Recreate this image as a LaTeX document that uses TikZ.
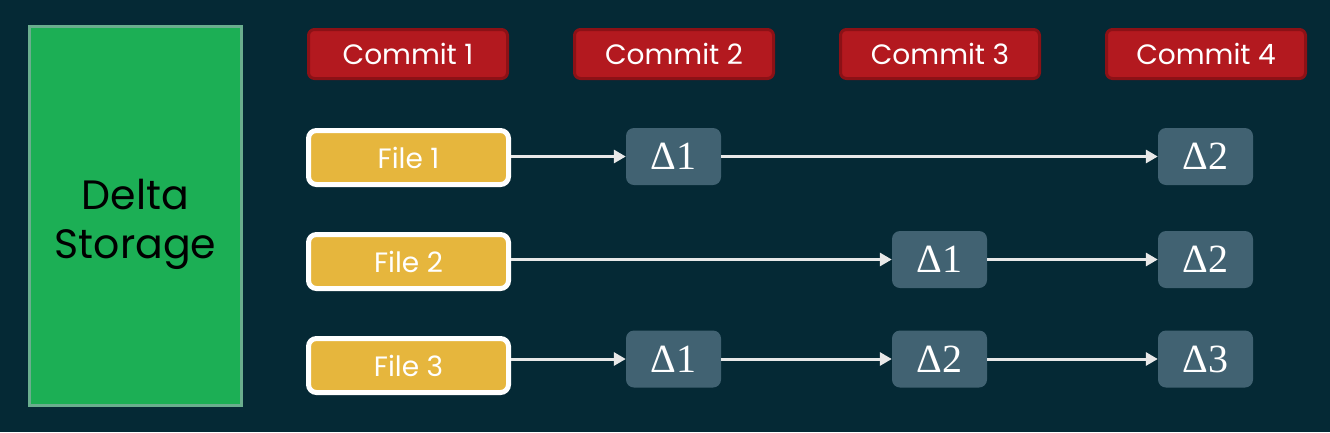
\documentclass[tikz,border=0pt]{standalone}
\usepackage{fontspec}
\setmainfont{Poppins}
\newfontfamily\deltafont{Liberation Serif}
\usetikzlibrary{arrows.meta}

\definecolor{bgcol}{RGB}{5,41,53}
\definecolor{storefill}{RGB}{28,175,85}
\definecolor{storeline}{RGB}{106,174,142}
\definecolor{commitfill}{RGB}{179,25,31}
\definecolor{commitline}{RGB}{140,17,22}
\definecolor{filefill}{RGB}{230,182,61}
\definecolor{deltafill}{RGB}{65,98,114}
\definecolor{arrowcol}{RGB}{232,232,232}

\begin{document}
\begin{tikzpicture}[x=1pt,y=-1pt,
    storebox/.style={draw=storeline, fill=storefill, line width=3pt, minimum width=212pt,
      minimum height=379pt, inner sep=0pt},
    storetext/.style={inner sep=0pt, align=center, text=black,
      font=\fontsize{41}{49}\selectfont},
    commitbox/.style={draw=commitline, fill=commitfill, line width=3pt, rounded corners=6pt,
      minimum width=199pt, minimum height=49pt, inner sep=0pt, text=white,
      font=\fontsize{28}{28}\selectfont},
    filebox/.style={draw=white, fill=filefill, line width=5pt, rounded corners=8pt,
      minimum width=200pt, minimum height=54pt, inner sep=0pt, text=white,
      font=\fontsize{28}{28}\selectfont},
    deltabox/.style={fill=deltafill, rounded corners=8pt, minimum width=95pt,
      minimum height=57pt, inner sep=0pt, text=white,
      font=\deltafont\fontsize{40}{40}\selectfont},
    flow/.style={draw=arrowcol, line width=3pt, -{Triangle[length=12pt,width=13pt]}}]
  % background
  \fill[bgcol] (0,0) rectangle (1330,432);
  \node[storebox] (store) at (135.5,216) {};
  \node[storetext] (storelbl) at ([yshift=-8pt]store.center) {Delta\\Storage};
  % commits
  \node[commitbox] (c1) at (408,54) {Commit 1};
  \node[commitbox] (c2) at (674,54) {Commit 2};
  \node[commitbox] (c3) at (940,54) {Commit 3};
  \node[commitbox] (c4) at (1206,54) {Commit 4};
  % files
  \node[filebox] (f1) at (408.5,157.5) {File 1};
  \node[filebox] (f2) at (408.5,261.5) {File 2};
  \node[filebox] (f3) at (408.5,365.5) {File 3};
  % deltas
  \node[deltabox] (d11) at (673.5,156.5) {Δ1};
  \node[deltabox] (d14) at (1205.5,156.5) {Δ2};
  \node[deltabox] (d23) at (939.5,259.5) {Δ1};
  \node[deltabox] (d24) at (1205.5,259.5) {Δ2};
  \node[deltabox] (d32) at (673.5,359) {Δ1};
  \node[deltabox] (d33) at (939.5,359) {Δ2};
  \node[deltabox] (d34) at (1205.5,359) {Δ3};
  % arrows
  \draw[flow] (f1.east |- d11.west) -- (d11.west);
  \draw[flow] (d11) -- (d14);
  \draw[flow] (f2.east |- d23.west) -- (d23.west);
  \draw[flow] (d23) -- (d24);
  \draw[flow] (f3.east |- d32.west) -- (d32.west);
  \draw[flow] (d32) -- (d33);
  \draw[flow] (d33) -- (d34);
\end{tikzpicture}
\end{document}
